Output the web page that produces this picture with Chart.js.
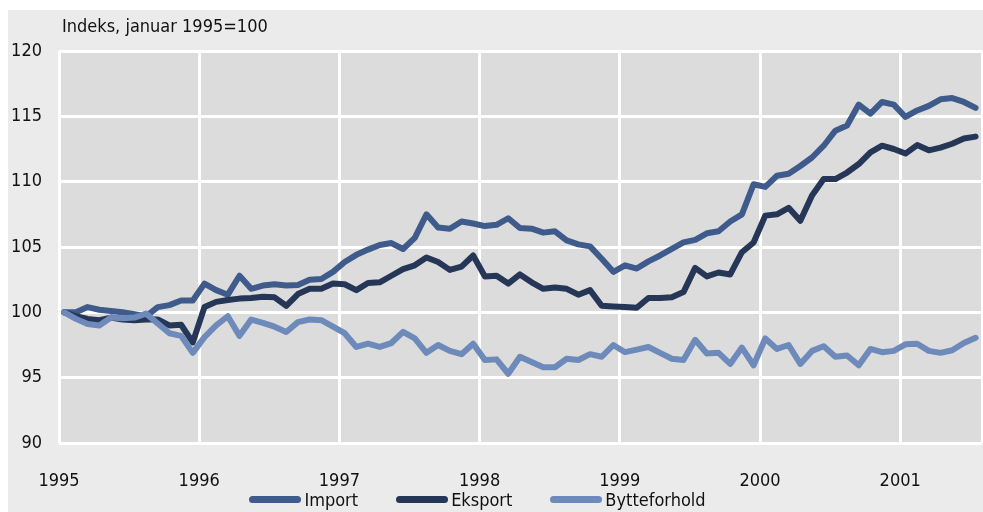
<!DOCTYPE html>
<html>
<head>
<meta charset="utf-8">
<script src="https://cdn.jsdelivr.net/npm/chart.js@4/dist/chart.umd.min.js"></script>
<style>
  body { margin: 0; background: #fff; }
  #wrap { position: relative; width: 983px; height: 512px; }
  #legend {
    position: absolute; left: 0; top: 489px; width: 955px;
    display: flex; justify-content: center; gap: 38px;
    font-family: 'DejaVu Sans Condensed', 'Liberation Sans Narrow', sans-serif;
    font-size: 18px; color: #111;
  }
  #legend .item { display: flex; align-items: center; }
  #legend .box { width: 52px; height: 7px; border-radius: 4px; margin-right: 3px; }
</style>
</head>
<body>
<div id="wrap">
  <canvas id="chart" width="983" height="512"></canvas>
  <div id="legend"></div>
</div>
<script>
// Tittel og akseetiketter
const tittel = 'Indeks, januar 1995=100';
const aar = ['1995', '1996', '1997', '1998', '1999', '2000', '2001'];
const serieNavn = ['Import', 'Eksport', 'Bytteforhold'];

// Månedlige verdier, januar 1995 - juli 2001
const importData = [
  100.0, 100.0, 100.4, 100.2, 100.1, 100.0, 99.85, 99.7, 100.4, 100.55, 100.9, 100.9,
  102.2, 101.7, 101.35, 102.8, 101.8, 102.05, 102.15, 102.05, 102.1, 102.5, 102.55, 103.1,
  103.85, 104.4, 104.8, 105.15, 105.3, 104.85, 105.7, 107.5, 106.5, 106.4, 106.95, 106.8,
  106.6, 106.7, 107.2, 106.45, 106.4, 106.1, 106.2, 105.5, 105.2, 105.05, 104.1, 103.1,
  103.6, 103.35, 103.9, 104.35, 104.85, 105.35, 105.55, 106.05, 106.2, 106.95, 107.5, 109.8,
  109.6, 110.45, 110.6, 111.2, 111.85, 112.75, 113.9, 114.3, 115.9, 115.2, 116.1, 115.9,
  114.95, 115.45, 115.8, 116.3, 116.4, 116.1, 115.65
];
const eksportData = [
  100.0, 99.7, 99.5, 99.4, 99.6, 99.45, 99.4, 99.45, 99.45, 99.0, 99.05, 97.7,
  100.4, 100.8, 100.95, 101.05, 101.1, 101.2, 101.15, 100.5, 101.4, 101.8, 101.8, 102.2,
  102.15, 101.7, 102.25, 102.3, 102.8, 103.3, 103.6, 104.2, 103.85, 103.25, 103.5, 104.35,
  102.75, 102.8, 102.2, 102.9, 102.3, 101.8, 101.9, 101.8, 101.35, 101.7, 100.5, 100.45,
  100.4, 100.35, 101.1, 101.1, 101.15, 101.55, 103.4, 102.75, 103.05, 102.9, 104.6, 105.35,
  107.4, 107.5, 108.0, 107.0, 108.95, 110.2, 110.2, 110.7, 111.35, 112.25, 112.75, 112.5,
  112.15, 112.8, 112.4, 112.6, 112.9, 113.3, 113.45
];
const bytteData = [
  100.0, 99.5, 99.1, 99.0, 99.6, 99.55, 99.6, 99.9, 99.15, 98.4, 98.2, 96.9,
  98.1, 99.0, 99.7, 98.2, 99.45, 99.2, 98.9, 98.5, 99.25, 99.45, 99.4, 98.9,
  98.4, 97.35, 97.6, 97.35, 97.65, 98.5, 98.0, 96.9, 97.5, 97.05, 96.8, 97.6,
  96.35, 96.4, 95.3, 96.6, 96.2, 95.8, 95.8, 96.45, 96.35, 96.8, 96.6, 97.5,
  96.95, 97.15, 97.35, 96.9, 96.45, 96.35, 97.9, 96.85, 96.9, 96.05, 97.3, 95.95,
  98.0, 97.2, 97.5, 96.05, 97.05, 97.4, 96.6, 96.7, 95.95, 97.2, 96.95, 97.05,
  97.55, 97.6, 97.05, 96.9, 97.1, 97.65, 98.05
];

const farger = ['#3f5b8c', '#263656', '#6d8abb'];
const skrift = "'DejaVu Sans Condensed', 'Liberation Sans Narrow', sans-serif";

// punktene ligger litt inn i måneden
const tilPunkter = arr => arr.map((v, i) => ({ x: i + 0.45, y: v }));

const bakgrunn = {
  id: 'bakgrunn',
  beforeDraw(chart) {
    const { ctx, chartArea: a, width, height } = chart;
    ctx.save();
    ctx.fillStyle = '#ffffff';
    ctx.fillRect(0, 0, width, height);
    ctx.fillStyle = '#ebebeb';
    ctx.fillRect(8, 10, width - 8, height - 10);
    ctx.fillStyle = '#dcdcdc';
    ctx.fillRect(a.left, a.top, a.right - a.left, a.bottom - a.top);
    ctx.fillStyle = '#111';
    ctx.font = '18px ' + skrift;
    ctx.textBaseline = 'middle';
    ctx.fillText(tittel, 62, 27);
    ctx.restore();
  }
};

const chart = new Chart(document.getElementById('chart'), {
  type: 'line',
  data: {
    datasets: [importData, eksportData, bytteData].map((d, k) => ({
      label: serieNavn[k],
      data: tilPunkter(d),
      borderColor: farger[k],
      backgroundColor: farger[k],
      borderWidth: 6,
      pointRadius: 0,
      tension: 0,
      borderCapStyle: 'round',
      borderJoinStyle: 'round',
      order: 3 - k
    }))
  },
  options: {
    responsive: false,
    animation: false,
    layout: { padding: { top: 51, right: 1, left: 0, bottom: 0 } },
    plugins: { legend: { display: false }, tooltip: { enabled: false } },
    scales: {
      x: {
        type: 'linear',
        min: 0,
        max: 79,
        afterBuildTicks: s => { s.ticks = [0, 12, 24, 36, 48, 60, 72, 79].map(v => ({ value: v })); },
        afterFit: s => { s.height = 69; s.paddingLeft = 0; s.paddingRight = 0; },
        grid: { color: '#ffffff', lineWidth: 3, drawTicks: false },
        border: { display: false },
        ticks: {
          padding: 28,
          maxRotation: 0,
          autoSkip: false,
          color: '#111',
          font: { family: skrift, size: 18 },
          callback: v => aar[v / 12] || ''
        }
      },
      y: {
        min: 90,
        max: 120,
        afterFit: s => { s.width = 59; },
        grid: { color: '#ffffff', lineWidth: 3, drawTicks: false },
        border: { display: false },
        ticks: {
          stepSize: 5,
          padding: 17,
          color: '#111',
          font: { family: skrift, size: 18 }
        }
      }
    }
  },
  plugins: [bakgrunn]
});

// Tegnforklaring
const legend = document.getElementById('legend');
chart.data.datasets.forEach(ds => {
  const item = document.createElement('div');
  item.className = 'item';
  const box = document.createElement('span');
  box.className = 'box';
  box.style.background = ds.borderColor;
  const txt = document.createElement('span');
  txt.textContent = ds.label;
  item.appendChild(box);
  item.appendChild(txt);
  legend.appendChild(item);
});
</script>
</body>
</html>
